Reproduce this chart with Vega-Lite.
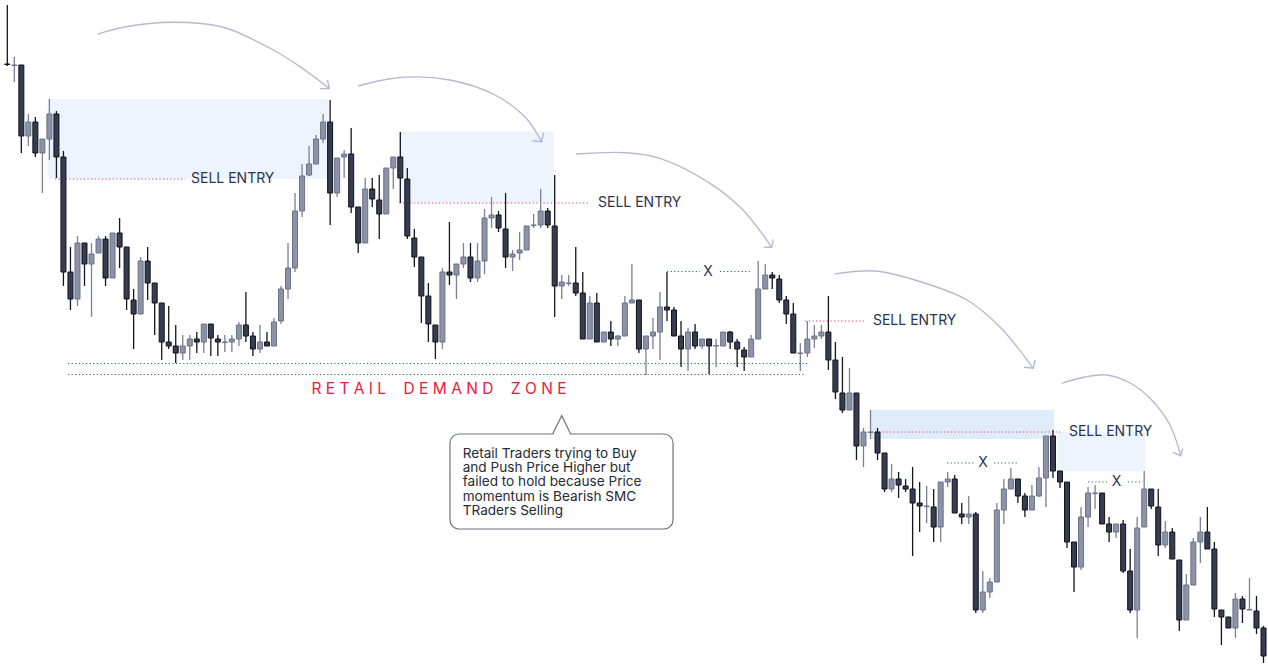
{
  "$schema": "https://vega.github.io/schema/vega-lite/v6.json",
  "width": 1268,
  "height": 664,
  "autosize": {"type": "fit", "contains": "padding"},
  "padding": 0,
  "background": "white",
  "config": {"view": {"stroke": null}, "font": "Inter", "scale": {"continuousPadding": 0}},
  "datasets": {
    "candles": [
      {"i":0,"o":600,"h":659,"l":598,"c":599.5},
      {"i":1,"o":598.5,"h":607,"l":582,"c":599},
      {"i":2,"o":599,"h":599,"l":511,"c":528},
      {"i":3,"o":528,"h":550,"l":518,"c":542},
      {"i":4,"o":542,"h":547,"l":507,"c":511},
      {"i":5,"o":511,"h":525,"l":471,"c":525},
      {"i":6,"o":525,"h":565,"l":504,"c":550},
      {"i":7,"o":550,"h":553,"l":486,"c":507},
      {"i":8,"o":507,"h":513,"l":378,"c":392},
      {"i":9,"o":392,"h":417,"l":354,"c":365},
      {"i":10,"o":365,"h":428,"l":358,"c":421},
      {"i":11,"o":421,"h":421,"l":378,"c":400},
      {"i":12,"o":400,"h":421,"l":347,"c":410},
      {"i":13,"o":411,"h":428,"l":411,"c":425},
      {"i":14,"o":425,"h":428,"l":378,"c":386},
      {"i":15,"o":386,"h":431,"l":386,"c":431},
      {"i":16,"o":431,"h":446,"l":396,"c":417},
      {"i":17,"o":417,"h":417,"l":354,"c":365},
      {"i":18,"o":364,"h":375,"l":315,"c":350},
      {"i":19,"o":350,"h":407,"l":350,"c":403},
      {"i":20,"o":403,"h":417,"l":364,"c":381},
      {"i":21,"o":381,"h":381,"l":329,"c":361},
      {"i":22,"o":361,"h":361,"l":304,"c":322},
      {"i":23,"o":322,"h":358,"l":315,"c":318},
      {"i":24,"o":318,"h":339,"l":301,"c":311},
      {"i":25,"o":311,"h":329,"l":304,"c":318},
      {"i":26,"o":318,"h":329,"l":304,"c":325},
      {"i":27,"o":325,"h":332,"l":311,"c":322},
      {"i":28,"o":322,"h":340,"l":311,"c":340},
      {"i":29,"o":340,"h":340,"l":308,"c":326},
      {"i":30,"o":325,"h":329,"l":308,"c":322},
      {"i":31,"o":321.5,"h":329,"l":312,"c":322},
      {"i":32,"o":322,"h":329,"l":312,"c":325},
      {"i":33,"o":325,"h":342,"l":318,"c":339},
      {"i":34,"o":339,"h":372,"l":322,"c":328},
      {"i":35,"o":328,"h":332,"l":308,"c":315},
      {"i":36,"o":315,"h":339,"l":311,"c":322},
      {"i":37,"o":322,"h":332,"l":318,"c":318},
      {"i":38,"o":318,"h":346,"l":318,"c":342},
      {"i":39,"o":343,"h":378,"l":340,"c":375},
      {"i":40,"o":375,"h":421,"l":365,"c":396},
      {"i":41,"o":396,"h":471,"l":392,"c":453},
      {"i":42,"o":453,"h":500,"l":447,"c":488},
      {"i":43,"o":489,"h":518,"l":488,"c":500},
      {"i":44,"o":500,"h":529,"l":500,"c":525},
      {"i":45,"o":525,"h":550,"l":521,"c":542},
      {"i":46,"o":542,"h":564,"l":439,"c":471},
      {"i":47,"o":471,"h":506,"l":467,"c":506},
      {"i":48,"o":507,"h":514,"l":486,"c":510},
      {"i":49,"o":510,"h":536,"l":451,"c":457},
      {"i":50,"o":457,"h":457,"l":411,"c":421},
      {"i":51,"o":421,"h":486,"l":421,"c":475},
      {"i":52,"o":475,"h":486,"l":457,"c":465},
      {"i":53,"o":464,"h":489,"l":425,"c":450},
      {"i":54,"o":450,"h":496,"l":450,"c":496},
      {"i":55,"o":496,"h":507,"l":475,"c":507},
      {"i":56,"o":507,"h":532,"l":461,"c":486},
      {"i":57,"o":485,"h":496,"l":425,"c":428},
      {"i":58,"o":426,"h":435,"l":397,"c":407},
      {"i":59,"o":407,"h":407,"l":341,"c":368},
      {"i":60,"o":368,"h":381,"l":322,"c":340},
      {"i":61,"o":339,"h":339,"l":305,"c":322},
      {"i":62,"o":322,"h":396,"l":315,"c":392},
      {"i":63,"o":392,"h":442,"l":379,"c":389},
      {"i":64,"o":389,"h":400,"l":365,"c":400},
      {"i":65,"o":400,"h":421,"l":396,"c":407},
      {"i":66,"o":407,"h":421,"l":382,"c":386},
      {"i":67,"o":386,"h":421,"l":382,"c":403},
      {"i":68,"o":403,"h":455,"l":390,"c":446},
      {"i":69,"o":446,"h":467,"l":436,"c":449},
      {"i":70,"o":449,"h":453,"l":432,"c":436},
      {"i":71,"o":435,"h":471,"l":396,"c":407},
      {"i":72,"o":407,"h":414,"l":393,"c":410},
      {"i":73,"o":411,"h":432,"l":404,"c":414},
      {"i":74,"o":414,"h":438,"l":414,"c":438},
      {"i":75,"o":438.5,"h":450,"l":436,"c":439},
      {"i":76,"o":439,"h":475,"l":436,"c":453},
      {"i":77,"o":453,"h":456,"l":436,"c":439},
      {"i":78,"o":438,"h":489,"l":347,"c":378},
      {"i":79,"o":378,"h":389,"l":365,"c":382},
      {"i":80,"o":380.5,"h":389,"l":378,"c":381},
      {"i":81,"o":381,"h":417,"l":368,"c":371},
      {"i":82,"o":371,"h":392,"l":325,"c":325},
      {"i":83,"o":325,"h":368,"l":325,"c":361},
      {"i":84,"o":361,"h":371,"l":322,"c":322},
      {"i":85,"o":322,"h":332,"l":322,"c":332},
      {"i":86,"o":332,"h":343,"l":318,"c":325},
      {"i":87,"o":325,"h":329,"l":318,"c":328},
      {"i":88,"o":328,"h":368,"l":328,"c":361},
      {"i":89,"o":361,"h":400,"l":361,"c":364},
      {"i":90,"o":364,"h":364,"l":311,"c":315},
      {"i":91,"o":315,"h":328,"l":289,"c":328},
      {"i":92,"o":328,"h":346,"l":315,"c":332},
      {"i":93,"o":332,"h":372,"l":304,"c":357},
      {"i":94,"o":357,"h":392,"l":343,"c":354},
      {"i":95,"o":354,"h":357,"l":328,"c":328},
      {"i":96,"o":328,"h":343,"l":297,"c":315},
      {"i":97,"o":315,"h":336,"l":293,"c":332},
      {"i":98,"o":332,"h":340,"l":315,"c":318},
      {"i":99,"o":318,"h":325,"l":315,"c":325},
      {"i":100,"o":325,"h":325,"l":290,"c":318},
      {"i":101,"o":318,"h":325,"l":297,"c":318.5},
      {"i":102,"o":318,"h":332,"l":318,"c":332},
      {"i":103,"o":332,"h":333,"l":315,"c":322},
      {"i":104,"o":322,"h":325,"l":297,"c":315},
      {"i":105,"o":314,"h":317,"l":293,"c":307},
      {"i":106,"o":307,"h":329,"l":307,"c":325},
      {"i":107,"o":325,"h":403,"l":325,"c":375},
      {"i":108,"o":375,"h":400,"l":375,"c":389},
      {"i":109,"o":389,"h":392,"l":375,"c":386},
      {"i":110,"o":385,"h":389,"l":361,"c":364},
      {"i":111,"o":364,"h":368,"l":340,"c":350},
      {"i":112,"o":350,"h":361,"l":311,"c":311},
      {"i":113,"o":310.5,"h":321,"l":293,"c":311},
      {"i":114,"o":311,"h":343,"l":307,"c":325},
      {"i":115,"o":325,"h":339,"l":316,"c":328},
      {"i":116,"o":328,"h":339,"l":325,"c":332},
      {"i":117,"o":332,"h":368,"l":294,"c":304},
      {"i":118,"o":304,"h":322,"l":265,"c":272},
      {"i":119,"o":271,"h":307,"l":251,"c":254},
      {"i":120,"o":254,"h":296,"l":254,"c":271},
      {"i":121,"o":271,"h":271,"l":204,"c":218},
      {"i":122,"o":218,"h":236,"l":197,"c":232},
      {"i":123,"o":231.5,"h":254,"l":225,"c":232},
      {"i":124,"o":232,"h":236,"l":204,"c":211},
      {"i":125,"o":211,"h":211,"l":172,"c":175},
      {"i":126,"o":175,"h":200,"l":172,"c":185},
      {"i":127,"o":185,"h":192,"l":166,"c":179},
      {"i":128,"o":178,"h":185,"l":172,"c":175},
      {"i":129,"o":175,"h":197,"l":108,"c":161},
      {"i":130,"o":161,"h":182,"l":132,"c":158},
      {"i":131,"o":157.5,"h":178,"l":141,"c":158},
      {"i":132,"o":157,"h":175,"l":122,"c":137},
      {"i":133,"o":137,"h":182,"l":122,"c":182},
      {"i":134,"o":182,"h":192,"l":177,"c":185},
      {"i":135,"o":185,"h":189,"l":151,"c":151},
      {"i":136,"o":150,"h":161,"l":140,"c":147},
      {"i":137,"o":147,"h":168,"l":140,"c":150},
      {"i":138,"o":150,"h":152,"l":51,"c":54},
      {"i":139,"o":54,"h":93,"l":51,"c":72},
      {"i":140,"o":72,"h":86,"l":66,"c":82},
      {"i":141,"o":82,"h":161,"l":82,"c":154},
      {"i":142,"o":154,"h":185,"l":140,"c":175},
      {"i":143,"o":175,"h":196,"l":175,"c":185},
      {"i":144,"o":185,"h":185,"l":161,"c":168},
      {"i":145,"o":168,"h":171,"l":147,"c":154},
      {"i":146,"o":154,"h":179,"l":154,"c":168},
      {"i":147,"o":168,"h":197,"l":167,"c":186},
      {"i":148,"o":186,"h":228,"l":157,"c":228},
      {"i":149,"o":228,"h":234,"l":186,"c":193},
      {"i":150,"o":193,"h":193,"l":176,"c":182},
      {"i":151,"o":182,"h":182,"l":116,"c":122},
      {"i":152,"o":122,"h":122,"l":72,"c":97},
      {"i":153,"o":97,"h":157,"l":94,"c":147},
      {"i":154,"o":147,"h":177,"l":137,"c":171},
      {"i":155,"o":170.5,"h":179,"l":155,"c":171},
      {"i":156,"o":171,"h":171,"l":140,"c":140},
      {"i":157,"o":140,"h":147,"l":122,"c":132},
      {"i":158,"o":132,"h":140,"l":126,"c":140},
      {"i":159,"o":140,"h":144,"l":91,"c":93},
      {"i":160,"o":93,"h":115,"l":51,"c":54},
      {"i":161,"o":54,"h":147,"l":26,"c":136},
      {"i":162,"o":137,"h":193,"l":137,"c":175},
      {"i":163,"o":175,"h":175,"l":155,"c":158},
      {"i":164,"o":157,"h":175,"l":108,"c":119},
      {"i":165,"o":119,"h":143,"l":116,"c":132},
      {"i":166,"o":132,"h":136,"l":105,"c":105},
      {"i":167,"o":104,"h":104,"l":33,"c":44},
      {"i":168,"o":44,"h":90,"l":44,"c":79},
      {"i":169,"o":79,"h":126,"l":79,"c":122},
      {"i":170,"o":122,"h":147,"l":101,"c":132},
      {"i":171,"o":132,"h":157,"l":115,"c":115},
      {"i":172,"o":115,"h":122,"l":47,"c":55},
      {"i":173,"o":54,"h":54,"l":19,"c":47},
      {"i":174,"o":47,"h":47,"l":36,"c":36},
      {"i":175,"o":36,"h":71,"l":26,"c":65},
      {"i":176,"o":65,"h":68,"l":41,"c":55},
      {"i":177,"o":54,"h":86,"l":54,"c":54.5},
      {"i":178,"o":53,"h":68,"l":30,"c":36},
      {"i":179,"o":36,"h":38,"l":1,"c":8}
    ],
    "lightZones": [
      {"x":5.73,"x2":45.77,"y":485,"y2":565},
      {"x":55.88,"x2":77.9,"y":461,"y2":532.5},
      {"x":149.57,"x2":162.18,"y":193,"y2":232}
    ],
    "darkZones": [
      {"x":123.07,"x2":149.14,"y":225,"y2":254}
    ],
    "greenDots": [
      {"x":8.65,"x2":114.09,"y":300.5},
      {"x":8.65,"x2":113.8,"y":289.5},
      {"x":94.0,"x2":98.7,"y":392.5},
      {"x":101.55,"x2":105.8,"y":392.5},
      {"x":133.9,"x2":137.9,"y":201},
      {"x":140.6,"x2":144.0,"y":201},
      {"x":154.0,"x2":156.8,"y":182},
      {"x":159.7,"x2":161.8,"y":182}
    ],
    "redDots": [
      {"x":6.8,"x2":25.32,"y":485},
      {"x":55.88,"x2":83.03,"y":461},
      {"x":113.7,"x2":122.35,"y":343},
      {"x":123.21,"x2":150.28,"y":232}
    ],
    "sellLabels": [
      {"x":26.18,"y":485,"label":"SELL ENTRY"},
      {"x":84.17,"y":461,"label":"SELL ENTRY"},
      {"x":123.35,"y":343,"label":"SELL ENTRY"},
      {"x":151.28,"y":232,"label":"SELL ENTRY"}
    ],
    "xLabels": [
      {"x":99.84,"y":392.5,"label":"X"},
      {"x":139.03,"y":201,"label":"X"},
      {"x":158.05,"y":182,"label":"X"}
    ],
    "zoneLabel": [
      {"x":61.51,"y":275,"label":"R\u00a0E\u00a0T\u00a0A\u00a0I\u00a0L\u00a0\u00a0\u00a0\u00a0D\u00a0E\u00a0M\u00a0A\u00a0N\u00a0D\u00a0\u00a0\u00a0\u00a0Z\u00a0O\u00a0N\u00a0E"}
    ],
    "arcs": [
      {"a":1,"k":0,"x":12.82,"y":629.7},
      {"a":1,"k":1,"x":16.53,"y":636.7},
      {"a":1,"k":2,"x":23.65,"y":641.7},
      {"a":1,"k":3,"x":30.78,"y":636.7},
      {"a":1,"k":4,"x":37.9,"y":614},
      {"a":1,"k":5,"x":41.71,"y":597.3},
      {"a":1,"k":6,"x":45.88,"y":575.5},
      {"a":2,"k":0,"x":49.97,"y":578},
      {"a":2,"k":1,"x":55.96,"y":586.5},
      {"a":2,"k":2,"x":63.08,"y":584},
      {"a":2,"k":3,"x":69.49,"y":569},
      {"a":2,"k":4,"x":73.77,"y":547},
      {"a":2,"k":5,"x":76.15,"y":522.3},
      {"a":3,"k":0,"x":81.03,"y":510},
      {"a":3,"k":1,"x":88.26,"y":511.3},
      {"a":3,"k":2,"x":93.0,"y":505.7},
      {"a":3,"k":3,"x":100.13,"y":480.7},
      {"a":3,"k":4,"x":104.83,"y":454},
      {"a":3,"k":5,"x":108.92,"y":416.7},
      {"a":4,"k":0,"x":117.94,"y":390},
      {"a":4,"k":1,"x":123.64,"y":393},
      {"a":4,"k":2,"x":129.34,"y":384},
      {"a":4,"k":3,"x":136.75,"y":364},
      {"a":4,"k":4,"x":141.45,"y":337},
      {"a":4,"k":5,"x":146.2,"y":295.7},
      {"a":5,"k":0,"x":150.24,"y":280.7},
      {"a":5,"k":1,"x":153.56,"y":287},
      {"a":5,"k":2,"x":156.66,"y":289},
      {"a":5,"k":3,"x":159.98,"y":281},
      {"a":5,"k":4,"x":162.83,"y":265.7},
      {"a":5,"k":5,"x":165.67,"y":239},
      {"a":5,"k":6,"x":167.2,"y":208.3}
    ],
    "heads": [
      {"a":1,"k":0,"x":44.6,"y":575.2},
      {"a":1,"k":1,"x":45.88,"y":575.5},
      {"a":1,"k":2,"x":45.63,"y":584},
      {"a":2,"k":0,"x":74.87,"y":523.3},
      {"a":2,"k":1,"x":76.15,"y":522.3},
      {"a":2,"k":2,"x":76.38,"y":531.3},
      {"a":3,"k":0,"x":107.82,"y":416.7},
      {"a":3,"k":1,"x":108.92,"y":416.7},
      {"a":3,"k":2,"x":109.15,"y":424.7},
      {"a":4,"k":0,"x":144.87,"y":296.7},
      {"a":4,"k":1,"x":146.2,"y":295.7},
      {"a":4,"k":2,"x":146.44,"y":304},
      {"a":5,"k":0,"x":166.06,"y":211.7},
      {"a":5,"k":1,"x":167.2,"y":208.3},
      {"a":5,"k":2,"x":167.48,"y":215.7}
    ],
    "callout": [
      {"x":63.08,"x2":94.86,"y":135,"y2":230}
    ],
    "calloutGap": [
      {"x":77.85,"x2":80.15,"y":230}
    ],
    "pointer": [
      {"k":0,"x":77.71,"y":230},
      {"k":1,"x":79.0,"y":248.3},
      {"k":2,"x":80.28,"y":230}
    ],
    "calloutText": [
      {"x":64.89,"y":206.5,"label":"Retail Traders trying to Buy\nand Push Price Higher but\nfailed to hold because Price\nmomentum is Bearish SMC\nTRaders Selling"}
    ]
  },
  "layer": [
    {
      "data": {"name": "lightZones"},
      "mark": {"type": "rect", "fill": "#EEF4FD"},
      "encoding": {
        "x": {"field": "x", "type": "quantitative", "scale": {"domain": [-1.04, 179.64], "nice": false, "zero": false, "padding": 0}, "axis": null},
        "x2": {"field": "x2"},
        "y": {"field": "y", "type": "quantitative", "scale": {"domain": [0, 664], "nice": false, "zero": false}, "axis": null},
        "y2": {"field": "y2"}
      }
    },
    {
      "data": {"name": "darkZones"},
      "mark": {"type": "rect", "fill": "#DFECFC"},
      "encoding": {
        "x": {"field": "x", "type": "quantitative", "scale": {"domain": [-1.04, 179.64], "nice": false, "zero": false, "padding": 0}, "axis": null},
        "x2": {"field": "x2"},
        "y": {"field": "y", "type": "quantitative", "scale": {"domain": [0, 664], "nice": false, "zero": false}, "axis": null},
        "y2": {"field": "y2"}
      }
    },
    {
      "data": {"name": "greenDots"},
      "mark": {"type": "rule", "stroke": "#1F7354", "strokeWidth": 1.2, "strokeDash": [1.2, 2.4]},
      "encoding": {
        "x": {"field": "x", "type": "quantitative", "scale": {"domain": [-1.04, 179.64], "nice": false, "zero": false, "padding": 0}, "axis": null},
        "x2": {"field": "x2"},
        "y": {"field": "y", "type": "quantitative", "scale": {"domain": [0, 664], "nice": false, "zero": false}, "axis": null}
      }
    },
    {
      "data": {"name": "redDots"},
      "mark": {"type": "rule", "stroke": "#EE3A56", "strokeWidth": 1.2, "strokeDash": [1.2, 2.4]},
      "encoding": {
        "x": {"field": "x", "type": "quantitative", "scale": {"domain": [-1.04, 179.64], "nice": false, "zero": false, "padding": 0}, "axis": null},
        "x2": {"field": "x2"},
        "y": {"field": "y", "type": "quantitative", "scale": {"domain": [0, 664], "nice": false, "zero": false}, "axis": null}
      }
    },
    {
      "data": {"name": "candles"},
      "mark": {"type": "rule", "strokeWidth": 1.3},
      "encoding": {
        "x": {"field": "i", "type": "quantitative", "scale": {"domain": [-1.04, 179.64], "nice": false, "zero": false, "padding": 0}, "axis": null},
        "y": {"field": "l", "type": "quantitative", "scale": {"domain": [0, 664], "nice": false, "zero": false}, "axis": null},
        "y2": {"field": "h"},
        "color": {"condition": {"test": "datum.c >= datum.o", "value": "#7A8096"}, "value": "#14161D"}
      }
    },
    {
      "data": {"name": "candles"},
      "mark": {"type": "bar", "width": 5, "strokeWidth": 1},
      "encoding": {
        "x": {"field": "i", "type": "quantitative", "scale": {"domain": [-1.04, 179.64], "nice": false, "zero": false, "padding": 0}, "axis": null},
        "y": {"field": "o", "type": "quantitative", "scale": {"domain": [0, 664], "nice": false, "zero": false}, "axis": null},
        "y2": {"field": "c"},
        "fill": {"condition": {"test": "datum.c >= datum.o", "value": "#8C92A7"}, "value": "#363C51"},
        "stroke": {"condition": {"test": "datum.c >= datum.o", "value": "#6C7287"}, "value": "#111319"}
      }
    },
    {
      "data": {"name": "sellLabels"},
      "mark": {"type": "text", "align": "left", "baseline": "middle", "font": "Inter", "fontSize": 14, "color": "#2B3350"},
      "encoding": {
        "x": {"field": "x", "type": "quantitative", "scale": {"domain": [-1.04, 179.64], "nice": false, "zero": false, "padding": 0}, "axis": null},
        "y": {"field": "y", "type": "quantitative", "scale": {"domain": [0, 664], "nice": false, "zero": false}, "axis": null},
        "text": {"field": "label"}
      }
    },
    {
      "data": {"name": "xLabels"},
      "mark": {"type": "text", "align": "center", "baseline": "middle", "font": "Inter", "fontSize": 14, "color": "#2B3350"},
      "encoding": {
        "x": {"field": "x", "type": "quantitative", "scale": {"domain": [-1.04, 179.64], "nice": false, "zero": false, "padding": 0}, "axis": null},
        "y": {"field": "y", "type": "quantitative", "scale": {"domain": [0, 664], "nice": false, "zero": false}, "axis": null},
        "text": {"field": "label"}
      }
    },
    {
      "data": {"name": "zoneLabel"},
      "mark": {"type": "text", "align": "center", "baseline": "middle", "font": "Inter", "fontSize": 15.5, "color": "#F0183C"},
      "encoding": {
        "x": {"field": "x", "type": "quantitative", "scale": {"domain": [-1.04, 179.64], "nice": false, "zero": false, "padding": 0}, "axis": null},
        "y": {"field": "y", "type": "quantitative", "scale": {"domain": [0, 664], "nice": false, "zero": false}, "axis": null},
        "text": {"field": "label"}
      }
    },
    {
      "data": {"name": "arcs"},
      "mark": {"type": "line", "interpolate": "catmull-rom", "stroke": "#B5BAD2", "strokeWidth": 1.4},
      "encoding": {
        "x": {"field": "x", "type": "quantitative", "scale": {"domain": [-1.04, 179.64], "nice": false, "zero": false, "padding": 0}, "axis": null},
        "y": {"field": "y", "type": "quantitative", "scale": {"domain": [0, 664], "nice": false, "zero": false}, "axis": null},
        "detail": {"field": "a", "type": "nominal"},
        "order": {"field": "k", "type": "quantitative"}
      }
    },
    {
      "data": {"name": "heads"},
      "mark": {"type": "line", "stroke": "#B5BAD2", "strokeWidth": 1.4},
      "encoding": {
        "x": {"field": "x", "type": "quantitative", "scale": {"domain": [-1.04, 179.64], "nice": false, "zero": false, "padding": 0}, "axis": null},
        "y": {"field": "y", "type": "quantitative", "scale": {"domain": [0, 664], "nice": false, "zero": false}, "axis": null},
        "detail": {"field": "a", "type": "nominal"},
        "order": {"field": "k", "type": "quantitative"}
      }
    },
    {
      "data": {"name": "callout"},
      "mark": {"type": "rect", "fill": "white", "stroke": "#6E7385", "strokeWidth": 1.2, "cornerRadius": 9},
      "encoding": {
        "x": {"field": "x", "type": "quantitative", "scale": {"domain": [-1.04, 179.64], "nice": false, "zero": false, "padding": 0}, "axis": null},
        "x2": {"field": "x2"},
        "y": {"field": "y", "type": "quantitative", "scale": {"domain": [0, 664], "nice": false, "zero": false}, "axis": null},
        "y2": {"field": "y2"}
      }
    },
    {
      "data": {"name": "calloutGap"},
      "mark": {"type": "rule", "stroke": "white", "strokeWidth": 2.5},
      "encoding": {
        "x": {"field": "x", "type": "quantitative", "scale": {"domain": [-1.04, 179.64], "nice": false, "zero": false, "padding": 0}, "axis": null},
        "x2": {"field": "x2"},
        "y": {"field": "y", "type": "quantitative", "scale": {"domain": [0, 664], "nice": false, "zero": false}, "axis": null}
      }
    },
    {
      "data": {"name": "pointer"},
      "mark": {"type": "line", "stroke": "#6E7385", "strokeWidth": 1.2},
      "encoding": {
        "x": {"field": "x", "type": "quantitative", "scale": {"domain": [-1.04, 179.64], "nice": false, "zero": false, "padding": 0}, "axis": null},
        "y": {"field": "y", "type": "quantitative", "scale": {"domain": [0, 664], "nice": false, "zero": false}, "axis": null},
        "order": {"field": "k", "type": "quantitative"}
      }
    },
    {
      "data": {"name": "calloutText"},
      "mark": {"type": "text", "align": "left", "baseline": "alphabetic", "font": "Inter", "fontSize": 13.6, "lineHeight": 14.4, "lineBreak": "\n", "color": "#262A35"},
      "encoding": {
        "x": {"field": "x", "type": "quantitative", "scale": {"domain": [-1.04, 179.64], "nice": false, "zero": false, "padding": 0}, "axis": null},
        "y": {"field": "y", "type": "quantitative", "scale": {"domain": [0, 664], "nice": false, "zero": false}, "axis": null},
        "text": {"field": "label"}
      }
    }
  ]
}
